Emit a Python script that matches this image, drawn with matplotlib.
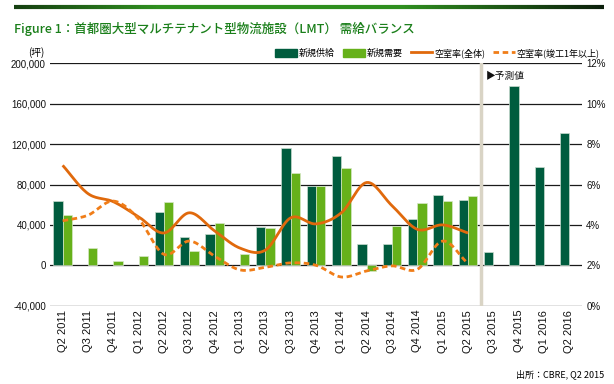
import numpy as np
import matplotlib
matplotlib.use('Agg')
import matplotlib.pyplot as plt
from matplotlib.patches import Patch
from matplotlib.lines import Line2D
from matplotlib.collections import LineCollection
from matplotlib.colors import LinearSegmentedColormap

plt.rcParams['font.family'] = ['Liberation Sans', 'Noto Sans CJK JP', 'DejaVu Sans']

# data
quarters = ['Q2 2011', 'Q3 2011', 'Q4 2011', 'Q1 2012', 'Q2 2012', 'Q3 2012', 'Q4 2012',
            'Q1 2013', 'Q2 2013', 'Q3 2013', 'Q4 2013', 'Q1 2014', 'Q2 2014', 'Q3 2014',
            'Q4 2014', 'Q1 2015', 'Q2 2015', 'Q3 2015', 'Q4 2015', 'Q1 2016', 'Q2 2016']
supply = [63500, 0, 0, 0, 52500, 28500, 30500, 0, 37500, 116000, 79000, 108000, 21000,
          21000, 46000, 69500, 64500, 13000, 178000, 97500, 131500]
demand = [50000, 17000, 4500, 9000, 62500, 14000, 41500, 11000, 37000, 91000, 79000, 96000,
          -6000, 39000, 61500, 64000, 69000, np.nan, np.nan, np.nan, np.nan]
vacancy_all = [6.95, 5.55, 5.15, 4.4, 3.6, 4.6, 3.7, 2.85, 2.75, 4.35, 4.05, 4.6, 6.1,
               4.95, 3.78, 4.0, 3.6]
vacancy_1yr = [4.2, 4.48, 5.18, 4.3, 2.54, 3.2, 2.45, 1.77, 1.9, 2.12, 2.0, 1.42, 1.72,
               1.97, 1.8, 3.2, 2.08]
n_actual = 17  # Q2 2015 is the last actual quarter

left_ticks = [-40000, 0, 40000, 80000, 120000, 160000, 200000]
right_ticks = [0, 2, 4, 6, 8, 10, 12]

DARK = '#005c3e'
LIGHT = '#66b11a'
ORANGE = '#e0690c'
ORANGE2 = '#f07d18'
JP = ['Noto Sans CJK JP', 'DejaVu Sans']


def smooth(xs, ys, n=16):
    # catmull-rom, like excel's smoothed line
    xs = np.asarray(xs, float)
    ys = np.asarray(ys, float)
    px = np.concatenate([[2 * xs[0] - xs[1]], xs, [2 * xs[-1] - xs[-2]]])
    py = np.concatenate([[2 * ys[0] - ys[1]], ys, [2 * ys[-1] - ys[-2]]])
    out_x, out_y = [], []
    t = np.linspace(0, 1, n, endpoint=False)
    for k in range(1, len(px) - 2):
        for arr, out in ((px, out_x), (py, out_y)):
            p0, p1, p2, p3 = arr[k - 1], arr[k], arr[k + 1], arr[k + 2]
            out.extend(0.5 * ((2 * p1) + (-p0 + p2) * t + (2 * p0 - 5 * p1 + 4 * p2 - p3) * t ** 2
                              + (-p0 + 3 * p1 - 3 * p2 + p3) * t ** 3))
    out_x.append(xs[-1])
    out_y.append(ys[-1])
    return np.array(out_x), np.array(out_y)


fig = plt.figure(figsize=(6.14, 3.84), dpi=100)
ax1 = fig.add_axes([0.0814, 0.204, 0.8666, 0.631])
ax2 = ax1.twinx()

x = np.arange(len(quarters))
w = 0.365

for yv in left_ticks:
    ax1.axhline(yv, color='#1a1a1a', lw=0.9, zorder=1)

sup = np.array(supply, float)
sup[sup == 0] = np.nan
ax1.bar(x - w / 2, sup, w, color=DARK, edgecolor='#c9dccf', lw=0.5, zorder=2)
ax1.bar(x + w / 2, demand, w, color=LIGHT, edgecolor='#d6e8c6', lw=0.5, zorder=2)

# forecast separator
ax1.axvline(n_actual - 0.5, color='#d9d4c5', lw=2.5, zorder=1.5)
ax1.text(n_actual - 0.3, 188000, '▶予測値', fontsize=7, ha='left', va='center',
         family=JP, color='#111')

sx, sy = smooth(x[:n_actual], vacancy_all)
ax2.plot(sx, sy, color=ORANGE, lw=2, solid_capstyle='butt', zorder=3)
dx, dy = smooth(x[:n_actual], vacancy_1yr)
ax2.plot(dx, dy, color=ORANGE2, lw=2, ls=(0, (2, 1.3)), zorder=3)

ax1.set_xlim(-0.5, len(quarters) - 0.5)
ax1.set_ylim(-40000, 200000)
ax2.set_ylim(0, 12)
ax1.set_yticks(left_ticks)
ax1.set_yticklabels([f'{v:,}' for v in left_ticks], fontsize=7)
ax2.set_yticks(right_ticks)
ax2.set_yticklabels([f'{v}%' for v in right_ticks], fontsize=7)
ax1.set_xticks(x)
ax1.set_xticklabels(quarters, rotation=90, fontsize=8)
for a in (ax1, ax2):
    for s in a.spines.values():
        s.set_visible(False)
    a.tick_params(length=0, pad=3, colors='#111')
ax1.set_zorder(ax2.get_zorder() - 1)
ax2.patch.set_visible(False)
ax1.patch.set_visible(False)

# top rule: dark at the ends, green in the middle
xs_rule = np.linspace(14 / 614, 604 / 614, 200)
segs = [[(xs_rule[k], 1 - 7 / 384), (xs_rule[k + 1], 1 - 7 / 384)] for k in range(len(xs_rule) - 1)]
pos = np.linspace(0, 1, len(segs))
shade = np.clip(1.6 * (1 - np.abs(pos - 0.45) / 0.55), 0, 1)
cmap = LinearSegmentedColormap.from_list('rule', ['#0b1f0b', '#2f8f1f'])
rule = LineCollection(segs, colors=cmap(shade), linewidths=3, transform=fig.transFigure)
fig.add_artist(rule)

fig.text(14 / 614, 1 - 29 / 384, 'Figure 1：首都圏大型マルチテナント型物流施設（LMT） 需給バランス',
         fontsize=9, color='#1a7f1a', fontweight='medium', va='center', family=JP)
fig.text(28 / 614, 1 - 53 / 384, '(坪)', fontsize=7, va='center', ha='left', family=JP)
fig.text(604 / 614, 1 - 374 / 384, '出所：CBRE, Q2 2015', fontsize=6.5, va='center', ha='right',
         family=JP)

handles = [Patch(color=DARK), Patch(color=LIGHT),
           Line2D([], [], color=ORANGE, lw=2),
           Line2D([], [], color=ORANGE2, lw=2, ls=(0, (2, 1.3)))]
labels = ['新規供給', '新規需要', '空室率(全体)', '空室率(竣工1年以上)']
fig.legend(handles, labels, ncol=4, loc='center right', bbox_to_anchor=(0.99, 1 - 53 / 384),
           frameon=False, handlelength=2.4, handleheight=1.1, handletextpad=0.2,
           columnspacing=0.9, prop={'family': JP, 'size': 6.5})

fig.savefig('out.png', dpi=100)
